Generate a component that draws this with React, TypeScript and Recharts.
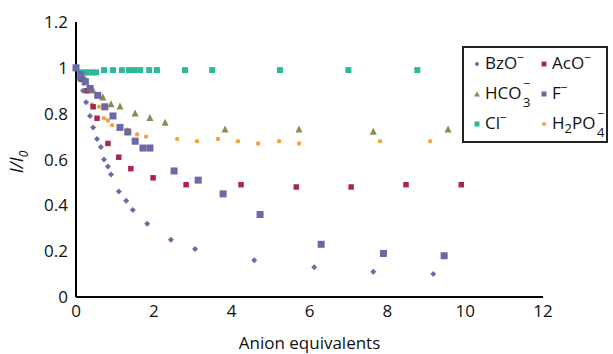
import React from "react";
import { ScatterChart, Scatter, XAxis, YAxis, Label } from "recharts";

type Pt = [number, number];

// values (x = anion equivalents, y = I/I0)
const bzo: Pt[] = [
  [0, 1.0], [0.08, 0.95], [0.18, 0.9], [0.26, 0.85], [0.36, 0.79], [0.44, 0.74],
  [0.54, 0.69], [0.64, 0.655], [0.72, 0.6], [0.82, 0.57], [0.9, 0.535], [1.1, 0.46],
  [1.29, 0.42], [1.46, 0.38], [1.83, 0.32], [2.44, 0.25], [3.06, 0.21], [4.58, 0.16],
  [6.12, 0.13], [7.64, 0.11], [9.18, 0.1],
];
const aco: Pt[] = [
  [0, 1.0], [0.14, 0.95], [0.28, 0.9], [0.44, 0.83], [0.54, 0.78], [0.82, 0.67],
  [1.1, 0.61], [1.41, 0.56], [1.98, 0.52], [2.83, 0.49], [4.24, 0.49], [5.66, 0.48],
  [7.07, 0.48], [8.48, 0.49], [9.9, 0.49],
];
const hco3: Pt[] = [
  [0, 1.0], [0.23, 0.95], [0.44, 0.9], [0.69, 0.87], [0.9, 0.84], [1.13, 0.83],
  [1.52, 0.8], [1.9, 0.78], [2.29, 0.76], [3.83, 0.73], [5.73, 0.73], [7.64, 0.72],
  [9.56, 0.73],
];
const fluoride: Pt[] = [
  [0, 1.0], [0.12, 0.97], [0.24, 0.94], [0.36, 0.91], [0.56, 0.88], [0.74, 0.83],
  [0.95, 0.79], [1.13, 0.74], [1.33, 0.72], [1.52, 0.68], [1.72, 0.65], [1.9, 0.65],
  [2.52, 0.55], [3.14, 0.51], [3.78, 0.45], [4.73, 0.36], [6.3, 0.23], [7.9, 0.19],
  [9.46, 0.18],
];
const chloride: Pt[] = [
  [0, 1.0], [0.12, 0.98], [0.22, 0.98], [0.32, 0.98], [0.42, 0.98], [0.52, 0.98],
  [0.72, 0.99], [0.95, 0.99], [1.18, 0.99], [1.36, 0.99], [1.5, 0.99], [1.65, 0.99],
  [1.88, 0.99], [2.08, 0.99], [2.8, 0.99], [3.5, 0.99], [5.24, 0.99], [7.0, 0.99],
  [8.77, 0.99],
];
const h2po4: Pt[] = [
  [0, 1.0], [0.2, 0.93], [0.34, 0.9], [0.41, 0.84], [0.59, 0.83], [0.72, 0.78],
  [0.82, 0.77], [0.93, 0.75], [1.31, 0.73], [1.57, 0.71], [1.8, 0.7], [2.6, 0.69],
  [3.11, 0.68], [3.65, 0.69], [4.16, 0.68], [4.68, 0.67], [5.22, 0.68], [5.73, 0.67],
  [7.81, 0.68], [9.1, 0.68],
];

const xTicks = [0, 2, 4, 6, 8, 10, 12];
const yTicks = [0, 0.2, 0.4, 0.6, 0.8, 1, 1.2];

const COLORS = {
  bzo: "#6c6aa9",
  aco: "#a8264f",
  hco3: "#8b8c52",
  f: "#6a68a6",
  cl: "#2fb79b",
  h2po4: "#f4a340",
};

const FONT = "'Open Sans', sans-serif";

const toRows = (pts: Pt[]) => pts.map(([x, y]) => ({ x, y }));

const Dia = (color: string, r: number) => (p: any) =>
  <polygon points={`${p.cx},${p.cy - r} ${p.cx + r},${p.cy} ${p.cx},${p.cy + r} ${p.cx - r},${p.cy}`} fill={color} />;
const Dot = (color: string, r: number) => (p: any) =>
  <circle cx={p.cx} cy={p.cy} r={r} fill={color} />;
const Sq = (color: string, s: number) => (p: any) =>
  <rect x={p.cx - s / 2} y={p.cy - s / 2} width={s} height={s} fill={color} />;
const Tri = (color: string, s: number) => (p: any) =>
  <polygon
    points={`${p.cx},${p.cy - s * 0.6} ${p.cx - s / 2},${p.cy + s * 0.4} ${p.cx + s / 2},${p.cy + s * 0.4}`}
    fill={color}
  />;

function Marker({ kind, color }: { kind: string; color: string }) {
  return (
    <svg width={8} height={8} style={{ marginRight: 4, verticalAlign: "middle" }}>
      {kind === "dot" && <circle cx={4} cy={4} r={2} fill={color} />}
      {kind === "sq" && <rect x={1.5} y={1.5} width={5} height={5} fill={color} />}
      {kind === "tri" && <polygon points="4,1.5 1,6.5 7,6.5" fill={color} />}
    </svg>
  );
}

const Minus = () => <sup style={{ fontSize: 12, lineHeight: 0 }}>−</sup>;

// ion with stacked charge (above) and subscript (below)
const Stack = ({ base, sub }: { base: string; sub: string }) => (
  <span style={{ position: "relative", display: "inline-block", paddingRight: 9 }}>
    {base}
    <span style={{ position: "absolute", right: 0, top: -5, fontSize: 12, lineHeight: "12px" }}>−</span>
    <span style={{ position: "absolute", right: 0, top: 12.5, fontSize: 13, lineHeight: "12px" }}>{sub}</span>
  </span>
);

export default function App() {
  return (
    <div style={{ position: "absolute", left: 0, top: 0, width: 613, height: 354, background: "#fff", fontFamily: FONT }}>
      <ScatterChart width={613} height={354} margin={{ top: 22, right: 70, bottom: 27, left: 20 }}>
        <XAxis
          type="number"
          dataKey="x"
          domain={[0, 12]}
          ticks={xTicks}
          tickLine={false}
          axisLine={{ stroke: "#000", strokeWidth: 2 }}
          tick={{ fill: "#111", fontSize: 17, fontFamily: FONT }}
          height={30}
        >
          <Label value="Anion equivalents" position="insideBottom" offset={-22} fill="#111" fontSize={17} fontFamily={FONT} />
        </XAxis>
        <YAxis
          type="number"
          dataKey="y"
          domain={[0, 1.2]}
          ticks={yTicks}
          tickLine={false}
          axisLine={{ stroke: "#000", strokeWidth: 2 }}
          tick={{ fill: "#111", fontSize: 17, fontFamily: FONT }}
          width={56}
        />
        <Scatter data={toRows(chloride)} shape={Sq(COLORS.cl, 6)} isAnimationActive={false} />
        <Scatter data={toRows(h2po4)} shape={Dot(COLORS.h2po4, 2.2)} isAnimationActive={false} />
        <Scatter data={toRows(hco3)} shape={Tri(COLORS.hco3, 7)} isAnimationActive={false} />
        <Scatter data={toRows(aco)} shape={Sq(COLORS.aco, 5.5)} isAnimationActive={false} />
        <Scatter data={toRows(fluoride)} shape={Sq(COLORS.f, 7)} isAnimationActive={false} />
        <Scatter data={toRows(bzo)} shape={Dia(COLORS.bzo, 3)} isAnimationActive={false} />
      </ScatterChart>

      <div
        style={{
          position: "absolute", left: 18, top: 162, transform: "translate(-50%, -50%) rotate(-90deg)",
          fontSize: 18, fontStyle: "italic", color: "#111", whiteSpace: "nowrap",
        }}
      >
        I/I<sub style={{ fontSize: 12 }}>0</sub>
      </div>

      <div
        style={{
          position: "absolute", left: 462, top: 46, width: 142, height: 93, border: "2px solid #222",
          fontSize: 17, color: "#111", lineHeight: "20px", whiteSpace: "nowrap",
        }}
      >
        <div style={{ position: "absolute", left: 9, top: 5 }}><Marker kind="dot" color={COLORS.bzo} />BzO<Minus /></div>
        <div style={{ position: "absolute", left: 76, top: 5 }}><Marker kind="sq" color={COLORS.aco} />AcO<Minus /></div>
        <div style={{ position: "absolute", left: 9, top: 35 }}><Marker kind="tri" color={COLORS.hco3} /><Stack base="HCO" sub="3" /></div>
        <div style={{ position: "absolute", left: 76, top: 35 }}><Marker kind="sq" color={COLORS.f} />F<Minus /></div>
        <div style={{ position: "absolute", left: 9, top: 65 }}><Marker kind="sq" color={COLORS.cl} />Cl<Minus /></div>
        <div style={{ position: "absolute", left: 76, top: 65 }}>
          <Marker kind="dot" color={COLORS.h2po4} />H<sub style={{ fontSize: 13, lineHeight: 0 }}>2</sub>
          <Stack base="PO" sub="4" />
        </div>
      </div>
    </div>
  );
}
